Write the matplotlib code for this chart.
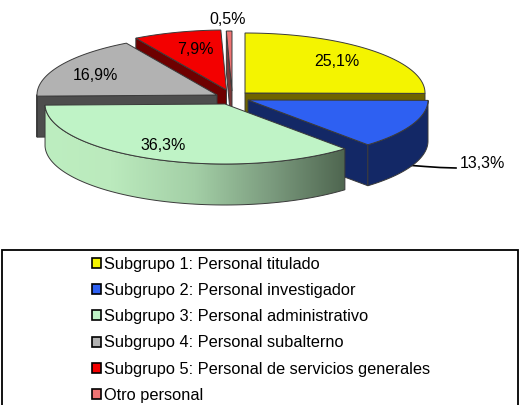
import numpy as np
import matplotlib
matplotlib.use("Agg")
import matplotlib.pyplot as plt
from matplotlib.patches import Polygon, Patch, Rectangle
from matplotlib.colors import LinearSegmentedColormap

plt.rcParams['font.family'] = ['Liberation Sans', 'DejaVu Sans']

# data
categories = ["Subgrupo 1: Personal titulado", "Subgrupo 2: Personal investigador",
              "Subgrupo 3: Personal administrativo", "Subgrupo 4: Personal subalterno",
              "Subgrupo 5: Personal de servicios generales", "Otro personal"]
values = [25.1, 13.3, 36.3, 16.9, 7.9, 0.5]
value_labels = ["25,1%", "13,3%", "36,3%", "16,9%", "7,9%", "0,5%"]

# style / layout
top_colors = ["#f4f400", "#2e60f2", "#bff3c6", "#b2b2b2", "#f30000", "#f07474"]
side_colors = ["#6e6400", "#132866", "#7f9f82", "#4d4d4d", "#6e0000", "#7a3838"]
centers = [(245, 93), (248, 100), (225, 104), (217, 95), (226.5, 90), (232, 91)]
label_pos = [(337, 61), (482, 163), (163, 145), (95, 76), (195, 50), (228, 19)]
RX, RY, DEPTH = 180, 60, 41
EDGE = "#3a3a3a"
draw_order = [5, 4, 3, 0, 1, 2]
FS = 11.8

fig = plt.figure(figsize=(5.23, 4.05), dpi=100)
ax = fig.add_axes([0, 0, 1, 1])
ax.set_xlim(0, 523)
ax.set_ylim(405, 0)
ax.axis("off")

fracs = np.array(values) / sum(values) * 360
ends = np.cumsum(fracs)
starts = ends - fracs


def rim(i, n=80):
    t = np.radians(np.linspace(starts[i], ends[i], n))
    cx, cy = centers[i]
    return np.column_stack([cx + RX * np.sin(t), cy - RY * np.cos(t)])


green_cmap = LinearSegmentedColormap.from_list(
    "g", [(0, "#bdeec0"), (0.22, "#bbeabd"), (0.5, "#a3cfa6"), (0.75, "#7c9c7f"), (1, "#4f6650")])

for z, i in enumerate(draw_order):
    zb = 2 + z * 3
    cx, cy = centers[i]
    pts = rim(i)
    down = np.array([0, DEPTH])
    # straight cut faces that look toward the viewer
    cuts = {0: [pts[-1]], 1: [pts[-1]], 2: [], 3: [pts[0]], 4: [pts[0]], 5: [pts[0]]}[i]
    for p in cuts:
        q = np.array([[cx, cy], p, p + down, [cx, cy + DEPTH]])
        ax.add_patch(Polygon(q, closed=True, fc=side_colors[i], ec=EDGE, lw=0.7, zorder=zb))
    # outer wall
    front = pts[pts[:, 1] >= cy - 0.5]
    if len(front) > 1:
        wall = np.vstack([front, (front + down)[::-1]])
        if i == 2:
            poly = Polygon(wall, closed=True, fc="none", ec=EDGE, lw=0.7, zorder=zb + 1)
            ax.add_patch(poly)
            im = ax.imshow(np.linspace(0, 1, 256).reshape(1, -1), cmap=green_cmap, aspect="auto",
                           extent=(front[:, 0].min(), front[:, 0].max(), 405, 0), zorder=zb)
            im.set_clip_path(Polygon(wall, closed=True, transform=ax.transData))
        else:
            ax.add_patch(Polygon(wall, closed=True, fc=side_colors[i], ec=EDGE, lw=0.7, zorder=zb))
    # top
    top = np.vstack([[cx, cy], pts])
    ax.add_patch(Polygon(top, closed=True, fc=top_colors[i], ec=EDGE, lw=0.7, zorder=zb + 2))

ax.set_xlim(0, 523)
ax.set_ylim(405, 0)

# leader line of the blue slice
ax.plot([412, 425, 440, 456], [165.5, 166.5, 167.5, 168], color="black", lw=1.2, zorder=1)

for lab, (x, y) in zip(value_labels, label_pos):
    ax.text(x, y, lab, ha="center", va="center", fontsize=11.5, color="black", zorder=40)

# legend frame, running off the bottom of the picture
ax.add_patch(Rectangle((2, 249.5), 516, 170, fc="white", ec="black", lw=1.3, zorder=0.5))
handles = [Patch(fc=c, ec="black", lw=1.2) for c in top_colors]
ax.legend(handles, categories, loc="upper left", bbox_to_anchor=(92, 256.5), bbox_transform=ax.transData,
          frameon=False, fontsize=FS, handlelength=0.55, handleheight=0.55, handletextpad=0.2,
          labelspacing=0.69, borderpad=0, borderaxespad=0)

fig.savefig("out.png", dpi=100)
